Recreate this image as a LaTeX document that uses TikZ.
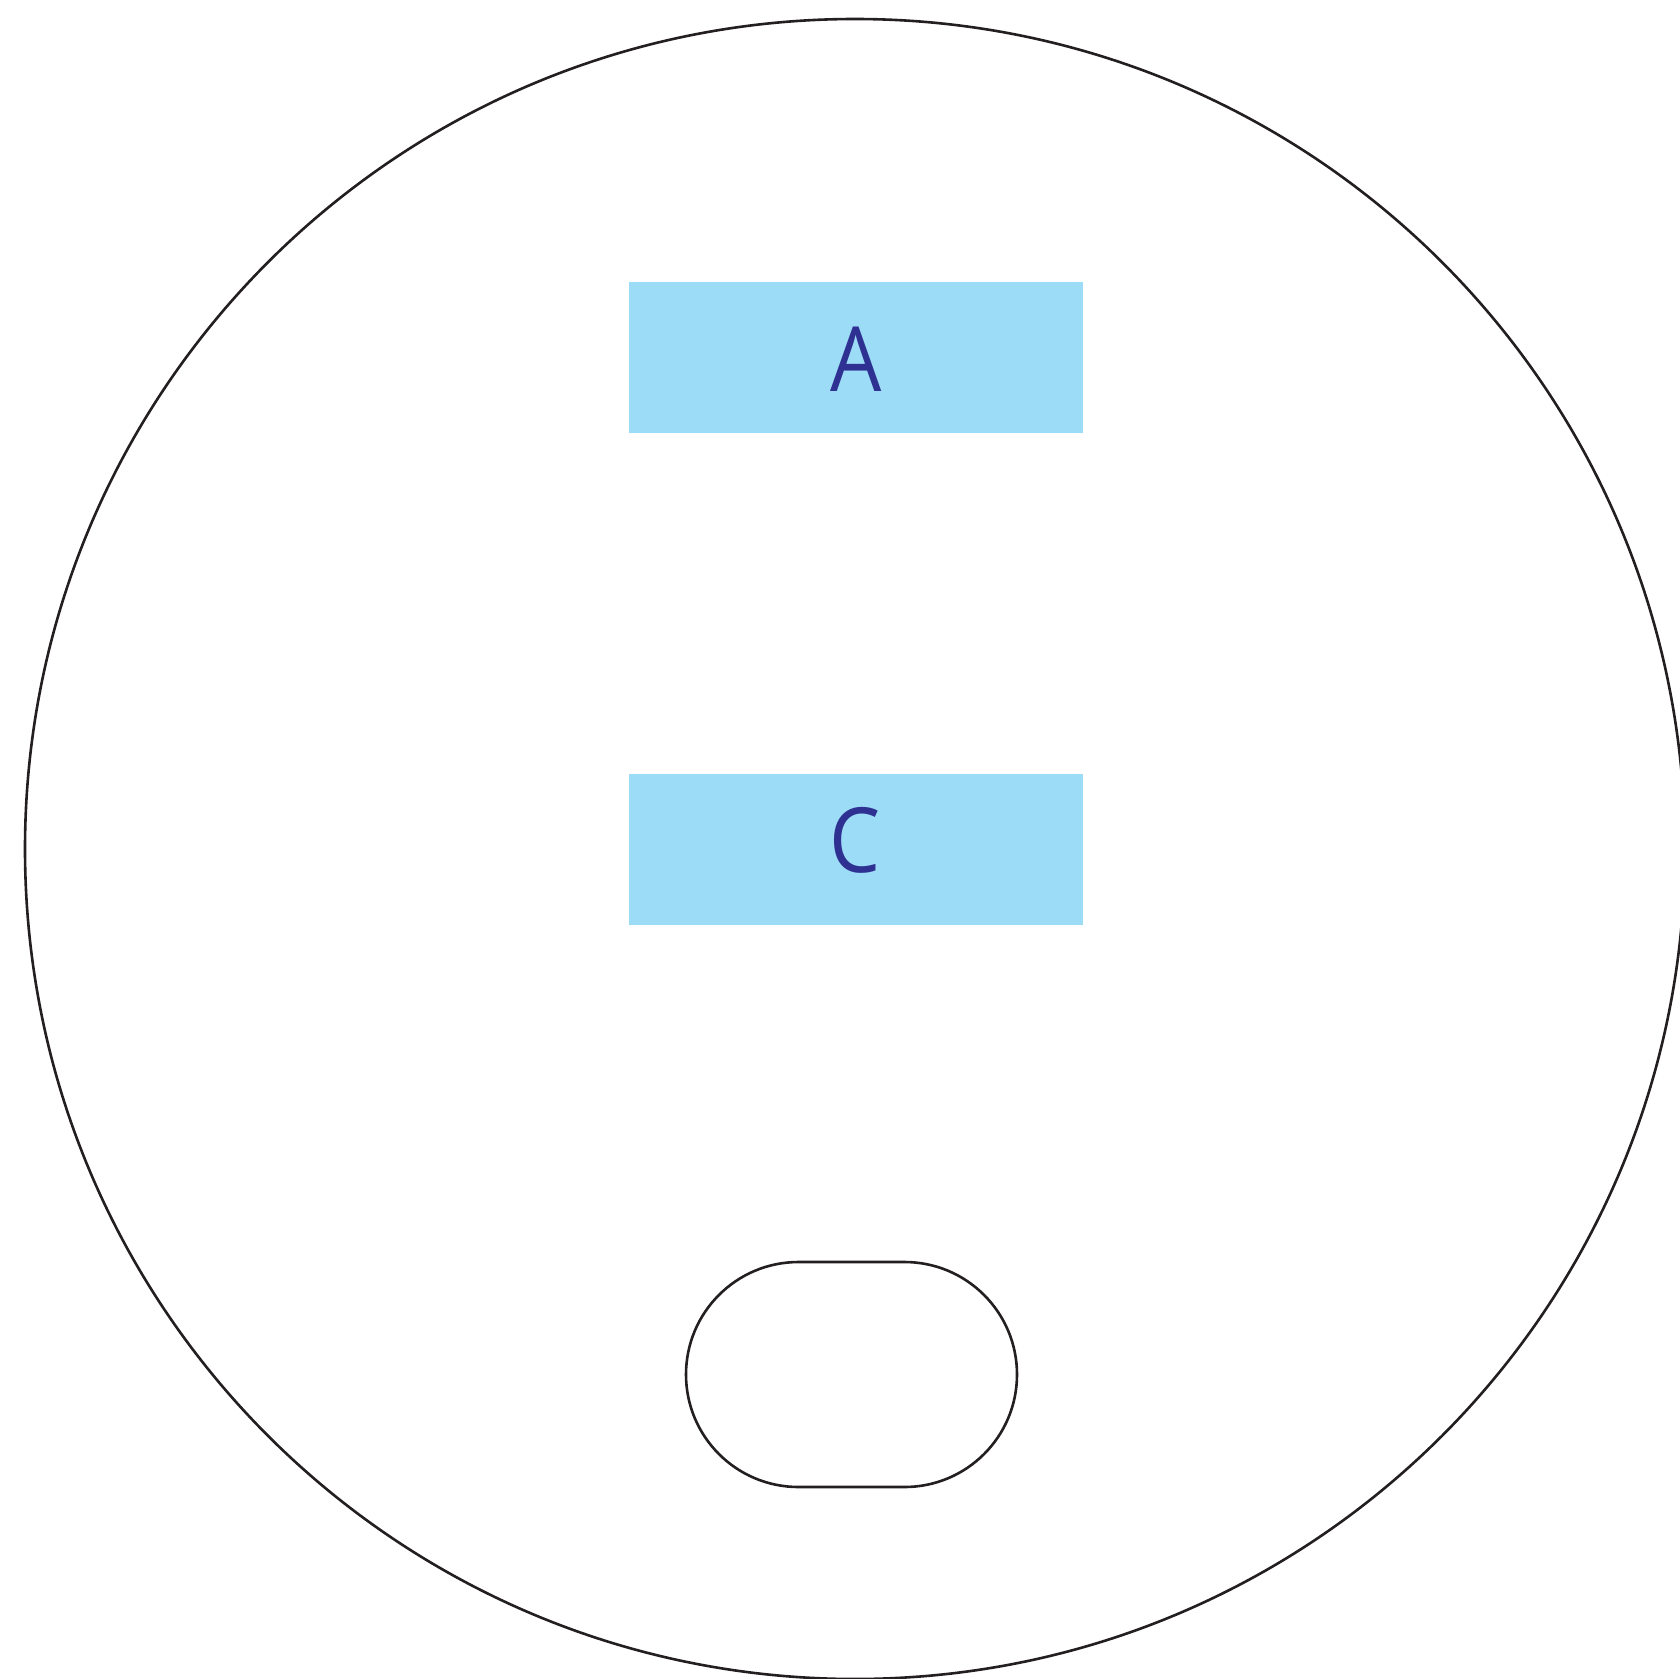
\documentclass[tikz,border=0pt]{standalone}
\usepackage{fontspec}
\setmainfont{Open Sans}
\newfontfamily\letterfont[FakeStretch=0.9]{Open Sans}
\definecolor{boxfill}{HTML}{9DDCF7}
\definecolor{lettercol}{HTML}{2E3192}
\definecolor{linecol}{HTML}{231F20}
\begin{document}
\begin{tikzpicture}[x=1pt,y=-1pt,
  bluebox/.style={rectangle,fill=boxfill,draw=none,minimum width=454pt,minimum height=151pt,inner sep=0pt,outer sep=0pt},
  letter/.style={text=lettercol,font=\letterfont\fontsize{90}{90}\selectfont,inner sep=0pt,anchor=base},
  outline/.style={draw=linecol,line width=2.6pt,fill=none,inner sep=0pt}]
\useasboundingbox (0,0) rectangle (1680,1678);
\clip (0,0) rectangle (1680,1678);
\node[outline,circle,minimum size=1660pt] (outer) at (855,849) {};
\node[bluebox] (boxA) at (856,357.5) {};
\node[bluebox] (boxC) at (856,849) {};
\node[letter] (labA) at (856,391) {A};
\node[letter] (labC) at (855,872) {C};
\node[outline,rectangle,rounded corners=112.5pt,minimum width=331pt,minimum height=225pt] (slot) at (851.5,1374.5) {};
\end{tikzpicture}
\end{document}
